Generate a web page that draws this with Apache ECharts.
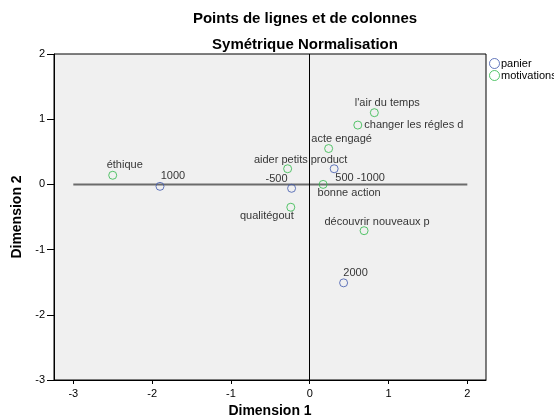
<!DOCTYPE html>
<html>
<head>
<meta charset="utf-8">
<script src="https://cdn.jsdelivr.net/npm/echarts@6/dist/echarts.min.js"></script>
<style>
  html, body { margin: 0; padding: 0; background: #fff; }
  #main { width: 554px; height: 419px; }
</style>
</head>
<body>
<div id="main"></div>
<script>
// panier (points bleus)
const panierNames = ['1000', '-500', '500 -1000', '2000'];
const panierX = [-1.90, -0.23, 0.31, 0.43];
const panierY = [-0.03, -0.06, 0.24, -1.51];

// motivations (points verts)
const motivNames = ['éthique', 'aider petits product', 'qualitégout', "l'air du temps",
  'changer les régles d', 'acte engagé', 'bonne action', 'découvrir nouveaux p'];
const motivX = [-2.50, -0.28, -0.24, 0.82, 0.61, 0.24, 0.17, 0.69];
const motivY = [0.14, 0.24, -0.35, 1.10, 0.91, 0.55, 0.00, -0.71];

const xTicks = [-3, -2, -1, 0, 1, 2];
const yTicks = [-3, -2, -1, 0, 1, 2];
const refLineX = [-3, 2]; // ligne de référence à y = 0

// décalage des étiquettes (centre du texte par rapport au point)
const labelOffsets = {
  '1000': [13, -10], '-500': [-15, -9], '500 -1000': [26, 9], '2000': [12, -10],
  'éthique': [12, -10], 'aider petits product': [13, -9], 'qualitégout': [-24, 9],
  "l'air du temps": [13, -10], 'changer les régles d': [56, 0], 'acte engagé': [13, -10],
  'bonne action': [26, 9], 'découvrir nouveaux p': [13, -9]
};

const font = 'Liberation Sans, Arial, sans-serif';

function buildPoints(names, xs, ys) {
  return names.map((n, i) => ({
    name: n,
    value: [xs[i], ys[i]],
    label: { offset: labelOffsets[n] }
  }));
}

const chart = echarts.init(document.getElementById('main'));

const pointLabel = {
  show: true,
  position: 'inside',
  formatter: p => p.name,
  color: '#000',
  fontFamily: font,
  fontSize: 11
};

const titleStyle = { fontFamily: font, fontSize: 15, fontWeight: 'bold', color: '#000' };
const nameStyle = { fontFamily: font, fontSize: 14, fontWeight: 'bold', color: '#000' };

const option = {
  backgroundColor: '#fff',
  animation: false,
  title: [
    { text: 'Points de lignes et de colonnes', left: 300, top: 6, textAlign: 'center', textStyle: titleStyle },
    { text: 'Symétrique Normalisation', left: 300, top: 32, textAlign: 'center', textStyle: titleStyle }
  ],
  legend: {
    orient: 'vertical',
    left: 484,
    top: 53,
    itemWidth: 11,
    itemHeight: 10,
    itemGap: 1,
    itemStyle: { borderWidth: 1 },
    textStyle: { fontFamily: font, fontSize: 11, color: '#000', padding: [0, 0, 0, -4] },
    data: ['panier', 'motivations']
  },
  grid: {
    left: 54, right: 68, top: 54, bottom: 39,
    outerBoundsMode: 'none',
    containLabel: false,
    show: true,
    backgroundColor: '#f0f0f0',
    borderColor: '#000',
    borderWidth: 1
  },
  xAxis: {
    type: 'value',
    min: -3.245,
    max: 2.237,
    name: 'Dimension 1',
    nameLocation: 'middle',
    nameGap: 24,
    nameTextStyle: nameStyle,
    axisLine: { show: true, onZero: false, lineStyle: { color: '#000', width: 1 } },
    axisTick: { show: true, length: 4, customValues: xTicks, lineStyle: { color: '#000' } },
    axisLabel: { customValues: xTicks, margin: 8, fontFamily: font, fontSize: 11, color: '#000' },
    splitLine: { show: false }
  },
  yAxis: {
    type: 'value',
    min: -3,
    max: 2,
    interval: 1,
    name: 'Dimension 2',
    nameLocation: 'middle',
    nameGap: 27,
    nameTextStyle: nameStyle,
    axisLine: { show: true, onZero: false, lineStyle: { color: '#000', width: 1 } },
    axisTick: { show: true, length: 7, lineStyle: { color: '#000' } },
    axisLabel: { margin: 9, fontFamily: font, fontSize: 11, color: '#000',
      formatter: v => (yTicks.includes(v) ? String(v) : '') },
    splitLine: { show: false }
  },
  series: [
    {
      name: 'ref',
      type: 'line',
      data: refLineX.map(x => [x, 0]),
      symbol: 'none',
      silent: true,
      lineStyle: { color: '#6b6b6b', width: 2 },
      markLine: {
        silent: true,
        symbol: 'none',
        label: { show: false },
        lineStyle: { color: '#000', width: 1, type: 'solid' },
        data: [{ xAxis: 0 }]
      },
      z: 1
    },
    {
      name: 'panier',
      type: 'scatter',
      symbol: 'circle',
      symbolSize: 8,
      itemStyle: { color: 'rgba(0,0,0,0)', borderColor: '#3e58ac', borderWidth: 1 },
      label: pointLabel,
      data: buildPoints(panierNames, panierX, panierY),
      z: 3
    },
    {
      name: 'motivations',
      type: 'scatter',
      symbol: 'circle',
      symbolSize: 8,
      itemStyle: { color: 'rgba(0,0,0,0)', borderColor: '#2eb848', borderWidth: 1 },
      label: pointLabel,
      data: buildPoints(motivNames, motivX, motivY),
      z: 3
    }
  ]
};

chart.setOption(option);
</script>
</body>
</html>
